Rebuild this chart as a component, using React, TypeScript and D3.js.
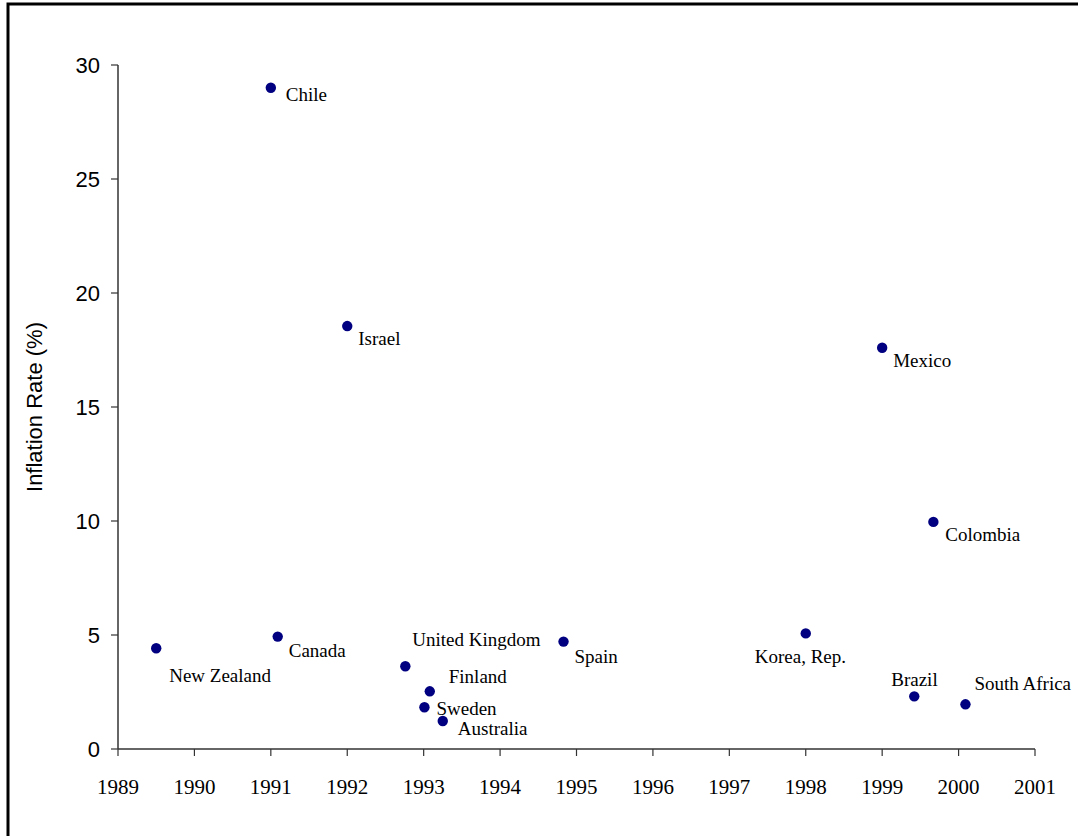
import { useEffect, useRef } from 'react';
import * as d3 from 'd3';

// inflation at adoption of inflation targeting
const countries = ['Chile', 'Israel', 'Mexico', 'Colombia', 'New Zealand', 'Canada', 'United Kingdom', 'Finland', 'Sweden', 'Australia', 'Spain', 'Korea, Rep.', 'Brazil', 'South Africa'];
const years = [1991.0, 1992.0, 1999.0, 1999.67, 1989.5, 1991.09, 1992.76, 1993.08, 1993.01, 1993.25, 1994.83, 1998.0, 1999.42, 2000.09];
const inflation = [29.0, 18.55, 17.6, 9.96, 4.42, 4.93, 3.63, 2.53, 1.83, 1.23, 4.71, 5.07, 2.31, 1.96];

const xTicks = [1989, 1990, 1991, 1992, 1993, 1994, 1995, 1996, 1997, 1998, 1999, 2000, 2001];
const yTicks = [0, 5, 10, 15, 20, 25, 30];

// label offsets from the dot, in px [dx, dy]
const labelOffsets: [number, number][] = [
    [15, 13], [11, 19], [11, 19], [12, 19], [13, 34], [11, 20], [7, -20],
    [19, -8], [12, 8], [15, 14], [11, 21], [-51, 30], [-23, -10], [9, -14],
];

export default function App() {
    const svgRef = useRef<SVGSVGElement>(null);
    const width = 1078;
    const height = 836;

    useEffect(() => {
        if (!svgRef.current) return;
        const svg = d3.select(svgRef.current);
        svg.selectAll('*').remove();

        const x = d3.scaleLinear().domain([1989, 2001]).range([118, 1035]);
        const y = d3.scaleLinear().domain([0, 30]).range([749, 65]);

        // outer frame (right/bottom edges fall off the page)
        svg.append('rect')
            .attr('x', 8).attr('y', 4)
            .attr('width', 1200).attr('height', 1000)
            .attr('fill', 'none')
            .attr('stroke', '#000')
            .attr('stroke-width', 3);

        const axisColor = '#333';

        // y axis
        svg.append('line')
            .attr('x1', 118).attr('x2', 118)
            .attr('y1', y(30)).attr('y2', y(0))
            .attr('stroke', axisColor).attr('stroke-width', 1.5);
        svg.selectAll('.ytick')
            .data(yTicks)
            .enter()
            .append('line')
            .attr('x1', 111).attr('x2', 118)
            .attr('y1', d => y(d)).attr('y2', d => y(d))
            .attr('stroke', axisColor).attr('stroke-width', 1.2);
        svg.selectAll('.ylab')
            .data(yTicks)
            .enter()
            .append('text')
            .attr('x', 100)
            .attr('y', d => y(d))
            .attr('dy', '0.36em')
            .attr('text-anchor', 'end')
            .attr('font-family', '"Liberation Sans", Arial, sans-serif')
            .attr('font-size', 22)
            .attr('fill', '#000')
            .text(d => d);

        svg.append('text')
            .attr('transform', `translate(42,${(y(0) + y(30)) / 2}) rotate(-90)`)
            .attr('text-anchor', 'middle')
            .attr('font-family', '"Liberation Sans", Arial, sans-serif')
            .attr('font-size', 22)
            .attr('fill', '#000')
            .text('Inflation Rate (%)');

        // x axis
        svg.append('line')
            .attr('x1', x(1989)).attr('x2', x(2001))
            .attr('y1', y(0)).attr('y2', y(0))
            .attr('stroke', axisColor).attr('stroke-width', 1.5);
        svg.selectAll('.xtick')
            .data(xTicks)
            .enter()
            .append('line')
            .attr('x1', d => x(d)).attr('x2', d => x(d))
            .attr('y1', y(0)).attr('y2', y(0) + 7)
            .attr('stroke', axisColor).attr('stroke-width', 1.2);
        svg.selectAll('.xlab')
            .data(xTicks)
            .enter()
            .append('text')
            .attr('x', d => x(d))
            .attr('y', 794)
            .attr('text-anchor', 'middle')
            .attr('font-family', '"Liberation Serif", "Times New Roman", serif')
            .attr('font-size', 21)
            .attr('fill', '#000')
            .text(d => d);

        const points = countries.map((c, i) => ({ name: c, year: years[i], value: inflation[i], off: labelOffsets[i] }));

        svg.selectAll('.dot')
            .data(points)
            .enter()
            .append('circle')
            .attr('cx', d => x(d.year))
            .attr('cy', d => y(d.value))
            .attr('r', 5.2)
            .attr('fill', '#000080');

        svg.selectAll('.clab')
            .data(points)
            .enter()
            .append('text')
            .attr('x', d => x(d.year) + d.off[0])
            .attr('y', d => y(d.value) + d.off[1])
            .attr('font-family', '"Liberation Serif", "Times New Roman", serif')
            .attr('font-size', 19)
            .attr('fill', '#000')
            .text(d => d.name);
    }, []);

    return (
        <svg
            ref={svgRef}
            width={width}
            height={height}
            viewBox={`0 0 ${width} ${height}`}
            style={{ position: 'absolute', left: 0, top: 0, background: '#fff' }}
        />
    );
}
